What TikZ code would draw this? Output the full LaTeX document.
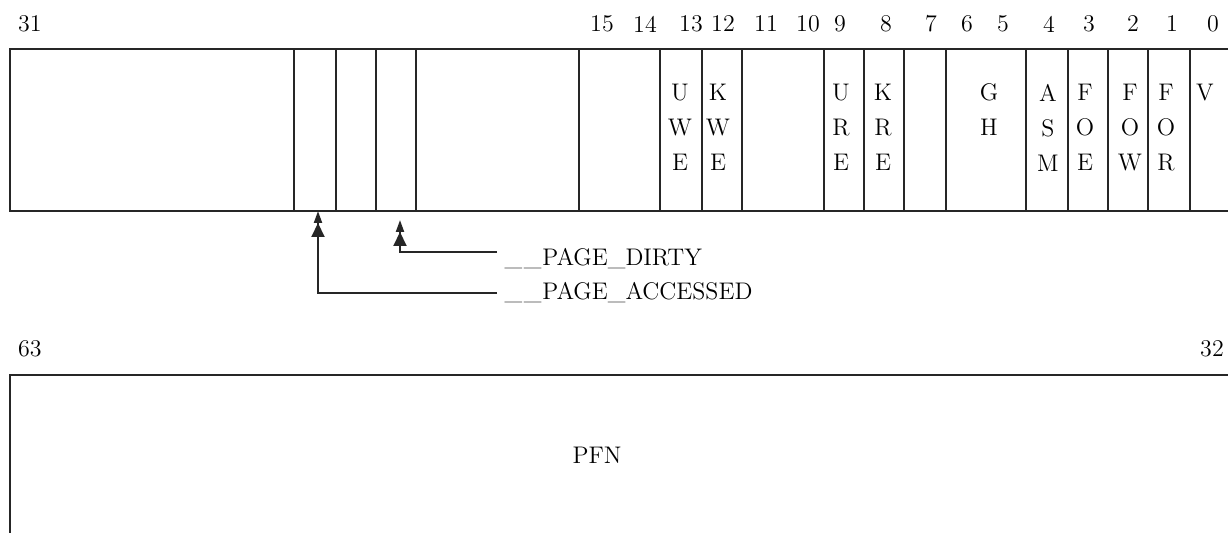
\documentclass[tikz,border=0pt]{standalone}
\usepackage{fontspec}
\usetikzlibrary{arrows.meta}

\tikzset{
	bitno/.style={font=\fontsize{12}{14}\selectfont},
	flag/.style={anchor=north, inner sep=0pt, align=center, font=\fontsize{12}{17.5}\selectfont},
	pgname/.style={anchor=west, font=\fontsize{12}{14}\selectfont},
	bitarrow/.style={-{Triangle[length=7pt,width=6.5pt] Triangle[length=6pt,width=4pt]}},
}

\begin{document}
\begin{tikzpicture}[x=0.5pt, y=-0.5pt, line width=1pt]
			\clip (0,0) rectangle (1228,533);
			
			% Low word
			\draw[black!85] (10,49) rectangle (1232,211);
			\draw[black!85] (294,49) -- (294,211) (336,49) -- (336,211) (376,49) -- (376,211) (416,49) -- (416,211);
			\draw[black!85] (579,49) -- (579,211) (660,49) -- (660,211) (702,49) -- (702,211) (742,49) -- (742,211);
			\draw[black!85] (824,49) -- (824,211) (864,49) -- (864,211) (904,49) -- (904,211) (946,49) -- (946,211);
			\draw[black!85] (1026,49) -- (1026,211) (1068,49) -- (1068,211) (1108,49) -- (1108,211) (1148,49) -- (1148,211) (1190,49) -- (1190,211);
			
			% Bit numbers
			\node[bitno] (b31) at (30,24) {31};
			\node[bitno] (b15) at (602,24) {15};
			\node[bitno] (b14) at (645,24) {14};
			\node[bitno] (b13) at (691,24) {13};
			\node[bitno] (b12) at (723,24) {12};
			\node[bitno] (b11) at (766,24) {11};
			\node[bitno] (b10) at (808,24) {10};
			\node[bitno] (b9) at (840,24) {9};
			\node[bitno] (b8) at (886,24) {8};
			\node[bitno] (b7) at (931,24) {7};
			\node[bitno] (b6) at (967,24) {6};
			\node[bitno] (b5) at (1003,24) {5};
			\node[bitno] (b4) at (1049,24) {4};
			\node[bitno] (b3) at (1089,24) {3};
			\node[bitno] (b2) at (1133,24) {2};
			\node[bitno] (b1) at (1172,24) {1};
			\node[bitno] (b0) at (1213,24) {0};
			
			% Flags
			\node[flag] (uwe) at (680,83) {U\\W\\E};
			\node[flag] (kwe) at (718,83) {K\\W\\E};
			\node[flag] (ure) at (841,83) {U\\R\\E};
			\node[flag] (kre) at (883,83) {K\\R\\E};
			\node[flag] (gh) at (989,83) {G\\H};
			\node[flag] (asm) at (1048,83) {A\\S\\M};
			\node[flag] (foe) at (1085,83) {F\\O\\E};
			\node[flag] (fow) at (1130,83) {F\\O\\W};
			\node[flag] (for) at (1166,83) {F\\O\\R};
			\node[flag] (v) at (1205,83) {V};
			
			% Software bits
			\coordinate (accessedtip) at (318,211);
			\coordinate (dirtytip) at (400,220);
			\node[pgname] (accessed) at (497,293) {\_\kern0.8pt\_\kern0.5pt PAGE\_ACCESSED};
			\node[pgname] (dirty) at (497,259) {\_\kern0.8pt\_\kern0.5pt PAGE\_DIRTY};
			\draw[black!85, bitarrow] (accessed.west) -| (accessedtip);
			\draw[black!85, bitarrow] ([yshift=3.5pt]dirty.west) -| (dirtytip);
			
			% High word
			\node[bitno] (b63) at (30,349) {63};
			\node[bitno] (b32) at (1212,349) {32};
			\draw[black!85] (10,375) rectangle (1232,600);
			\node[bitno] (pfn) at (597,455) {PFN};
		\end{tikzpicture}
\end{document}
